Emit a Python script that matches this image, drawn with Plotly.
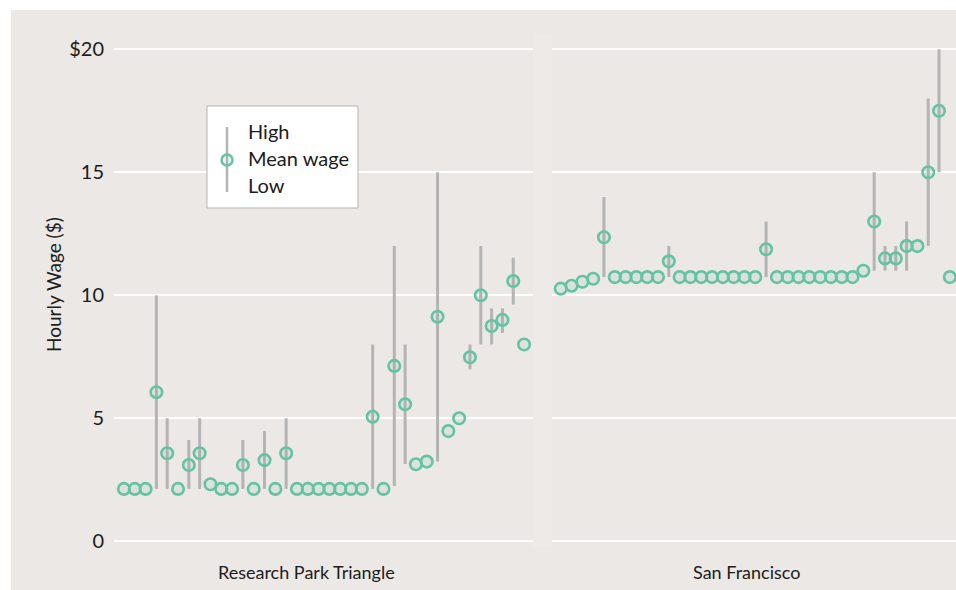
import plotly.graph_objects as go

# ---------------- data ----------------
panels = ["Research Park Triangle", "San Francisco"]

rpt_mean = [2.13, 2.13, 2.13, 6.06, 3.58, 2.13, 3.10, 3.58, 2.32, 2.13,
            2.13, 3.10, 2.13, 3.30, 2.13, 3.58, 2.13, 2.13, 2.13, 2.13,
            2.13, 2.13, 2.13, 5.06, 2.13, 7.13, 5.57, 3.13, 3.24, 9.13,
            4.48, 5.00, 7.48, 10.00, 8.75, 9.00, 10.58, 8.00]
rpt_low = [2.13, 2.13, 2.13, 2.13, 2.13, 2.13, 2.13, 2.13, 2.32, 2.13,
           2.13, 2.13, 2.13, 2.13, 2.13, 2.13, 2.13, 2.13, 2.13, 2.13,
           2.13, 2.13, 2.13, 2.13, 2.13, 2.25, 3.14, 3.13, 3.24, 3.24,
           4.48, 5.00, 6.99, 8.00, 8.00, 8.47, 9.63, 8.00]
rpt_high = [2.13, 2.13, 2.13, 10.00, 5.00, 2.13, 4.12, 5.00, 2.32, 2.13,
            2.13, 4.12, 2.13, 4.48, 2.13, 5.00, 2.13, 2.13, 2.13, 2.13,
            2.13, 2.13, 2.13, 8.00, 2.13, 12.00, 8.00, 3.13, 3.24, 15.00,
            4.48, 5.00, 8.00, 12.00, 9.47, 9.47, 11.53, 8.00]

sf_mean = [10.27, 10.39, 10.55, 10.67, 12.36, 10.74, 10.74, 10.74, 10.74, 10.74,
           11.38, 10.74, 10.74, 10.74, 10.74, 10.74, 10.74, 10.74, 10.74, 11.87,
           10.74, 10.74, 10.74, 10.74, 10.74, 10.74, 10.74, 10.74, 11.00, 13.00,
           11.50, 11.50, 12.00, 12.00, 15.00, 17.50, 10.74]
sf_low = [10.27, 10.39, 10.55, 10.67, 10.74, 10.74, 10.74, 10.74, 10.74, 10.74,
          10.74, 10.74, 10.74, 10.74, 10.74, 10.74, 10.74, 10.74, 10.74, 10.74,
          10.74, 10.74, 10.74, 10.74, 10.74, 10.74, 10.74, 10.74, 11.00, 11.00,
          11.00, 11.00, 11.00, 12.00, 12.00, 15.00, 10.74]
sf_high = [10.27, 10.39, 10.55, 10.67, 14.00, 10.74, 10.74, 10.74, 10.74, 10.74,
           12.00, 10.74, 10.74, 10.74, 10.74, 10.74, 10.74, 10.74, 10.74, 13.00,
           10.74, 10.74, 10.74, 10.74, 10.74, 10.74, 10.74, 10.74, 11.00, 15.00,
           12.00, 12.00, 13.00, 12.00, 18.00, 20.00, 10.74]

y_tickvals = [0, 5, 10, 15, 20]
y_ticktext = ["0", "5", "10", "15", "$20"]

# ---------------- styling ----------------
W, H = 956, 590
ML, MR, MT, MB = 114, 0, 30, 40
PW, PH = W - ML - MR, H - MT - MB
FONT = "Lato"
TXT = "#1c1c1c"
BG = "#ebe8e5"
TEAL = "#66c2a5"
ERR = "#b4b4b4"


def px(x):
    return (x - ML) / PW


def py(y):
    return (H - MB - y) / PH


fig = go.Figure()


def add_panel(mean, low, high, xa, ya):
    xs = list(range(len(mean)))
    fig.add_trace(go.Scatter(
        x=xs, y=mean, mode="markers", xaxis=xa, yaxis=ya, showlegend=False,
        marker=dict(symbol="circle", size=11.5, color="rgba(102,194,165,0.13)",
                    line=dict(color=TEAL, width=2.6)),
        error_y=dict(type="data", symmetric=False,
                     array=[h - m for h, m in zip(high, mean)],
                     arrayminus=[m - l for m, l in zip(mean, low)],
                     color=ERR, thickness=3, width=0),
        hoverinfo="skip",
    ))


add_panel(rpt_mean, rpt_low, rpt_high, "x", "y")
add_panel(sf_mean, sf_low, sf_high, "x2", "y2")

yr = [-(H - MB - 541.3) / 24.6, 20 + (49.3 - MT) / 24.6]
common_y = dict(range=yr, tickvals=y_tickvals, gridcolor="white", gridwidth=2,
                zeroline=False, showline=False, ticks="", fixedrange=True)
common_x = dict(showgrid=False, zeroline=False, showline=False, showticklabels=False,
                ticks="", fixedrange=True)

ann_font = lambda s: dict(family=FONT, size=s, color=TXT)

fig.update_layout(
    width=W, height=H,
    margin=dict(l=ML, r=MR, t=MT, b=MB),
    paper_bgcolor="white", plot_bgcolor="rgba(0,0,0,0)",
    font=dict(family=FONT, color=TXT),
    xaxis=dict(domain=[0, px(532.7)], range=[-0.92, 37.8], **common_x),
    xaxis2=dict(domain=[px(552.3), 1], range=[-0.78, 36.57], **common_x),
    yaxis=dict(anchor="x", ticktext=y_ticktext, ticklabelstandoff=9,
               tickfont=dict(family=FONT, size=20, color=TXT), **common_y),
    yaxis2=dict(anchor="x2", matches="y", showticklabels=False, **common_y),
    shapes=[
        # panel background
        dict(type="rect", xref="paper", yref="paper", x0=px(11), x1=1.0,
             y0=py(590), y1=py(10), fillcolor=BG, line=dict(width=0), layer="below"),
        # faint strip between facets
        dict(type="rect", xref="paper", yref="paper", x0=px(533), x1=px(552),
             y0=py(547), y1=py(33), fillcolor="#edeae7", line=dict(width=0), layer="below"),
        # legend box
        dict(type="rect", xref="paper", yref="paper", x0=px(207), x1=px(358),
             y0=py(208), y1=py(106), fillcolor="white",
             line=dict(color="#b5b5b5", width=1), layer="above"),
        dict(type="line", xref="paper", yref="paper", x0=px(227), x1=px(227),
             y0=py(192), y1=py(127), line=dict(color=ERR, width=2.5), layer="above"),
        dict(type="circle", xref="paper", yref="paper", x0=px(221.5), x1=px(232.5),
             y0=py(165.5), y1=py(154.5), fillcolor="rgba(102,194,165,0.13)",
             line=dict(color=TEAL, width=2.5), layer="above"),
    ],
    annotations=[
        dict(text="High", xref="paper", yref="paper", x=px(246), y=py(131),
             xanchor="left", yanchor="middle", showarrow=False, font=ann_font(20)),
        dict(text="Mean wage", xref="paper", yref="paper", x=px(246), y=py(158),
             xanchor="left", yanchor="middle", showarrow=False, font=ann_font(20)),
        dict(text="Low", xref="paper", yref="paper", x=px(246), y=py(185),
             xanchor="left", yanchor="middle", showarrow=False, font=ann_font(20)),
        dict(text="Hourly Wage ($)", xref="paper", yref="paper", x=px(53), y=py(284),
             xanchor="center", yanchor="middle", textangle=-90, showarrow=False,
             font=ann_font(19)),
        dict(text=panels[0], xref="paper", yref="paper", x=px(306.5), y=py(572),
             xanchor="center", yanchor="middle", showarrow=False, font=ann_font(18)),
        dict(text=panels[1], xref="paper", yref="paper", x=px(746), y=py(572),
             xanchor="center", yanchor="middle", showarrow=False, font=ann_font(18)),
    ],
)

fig.write_html("out.html")
